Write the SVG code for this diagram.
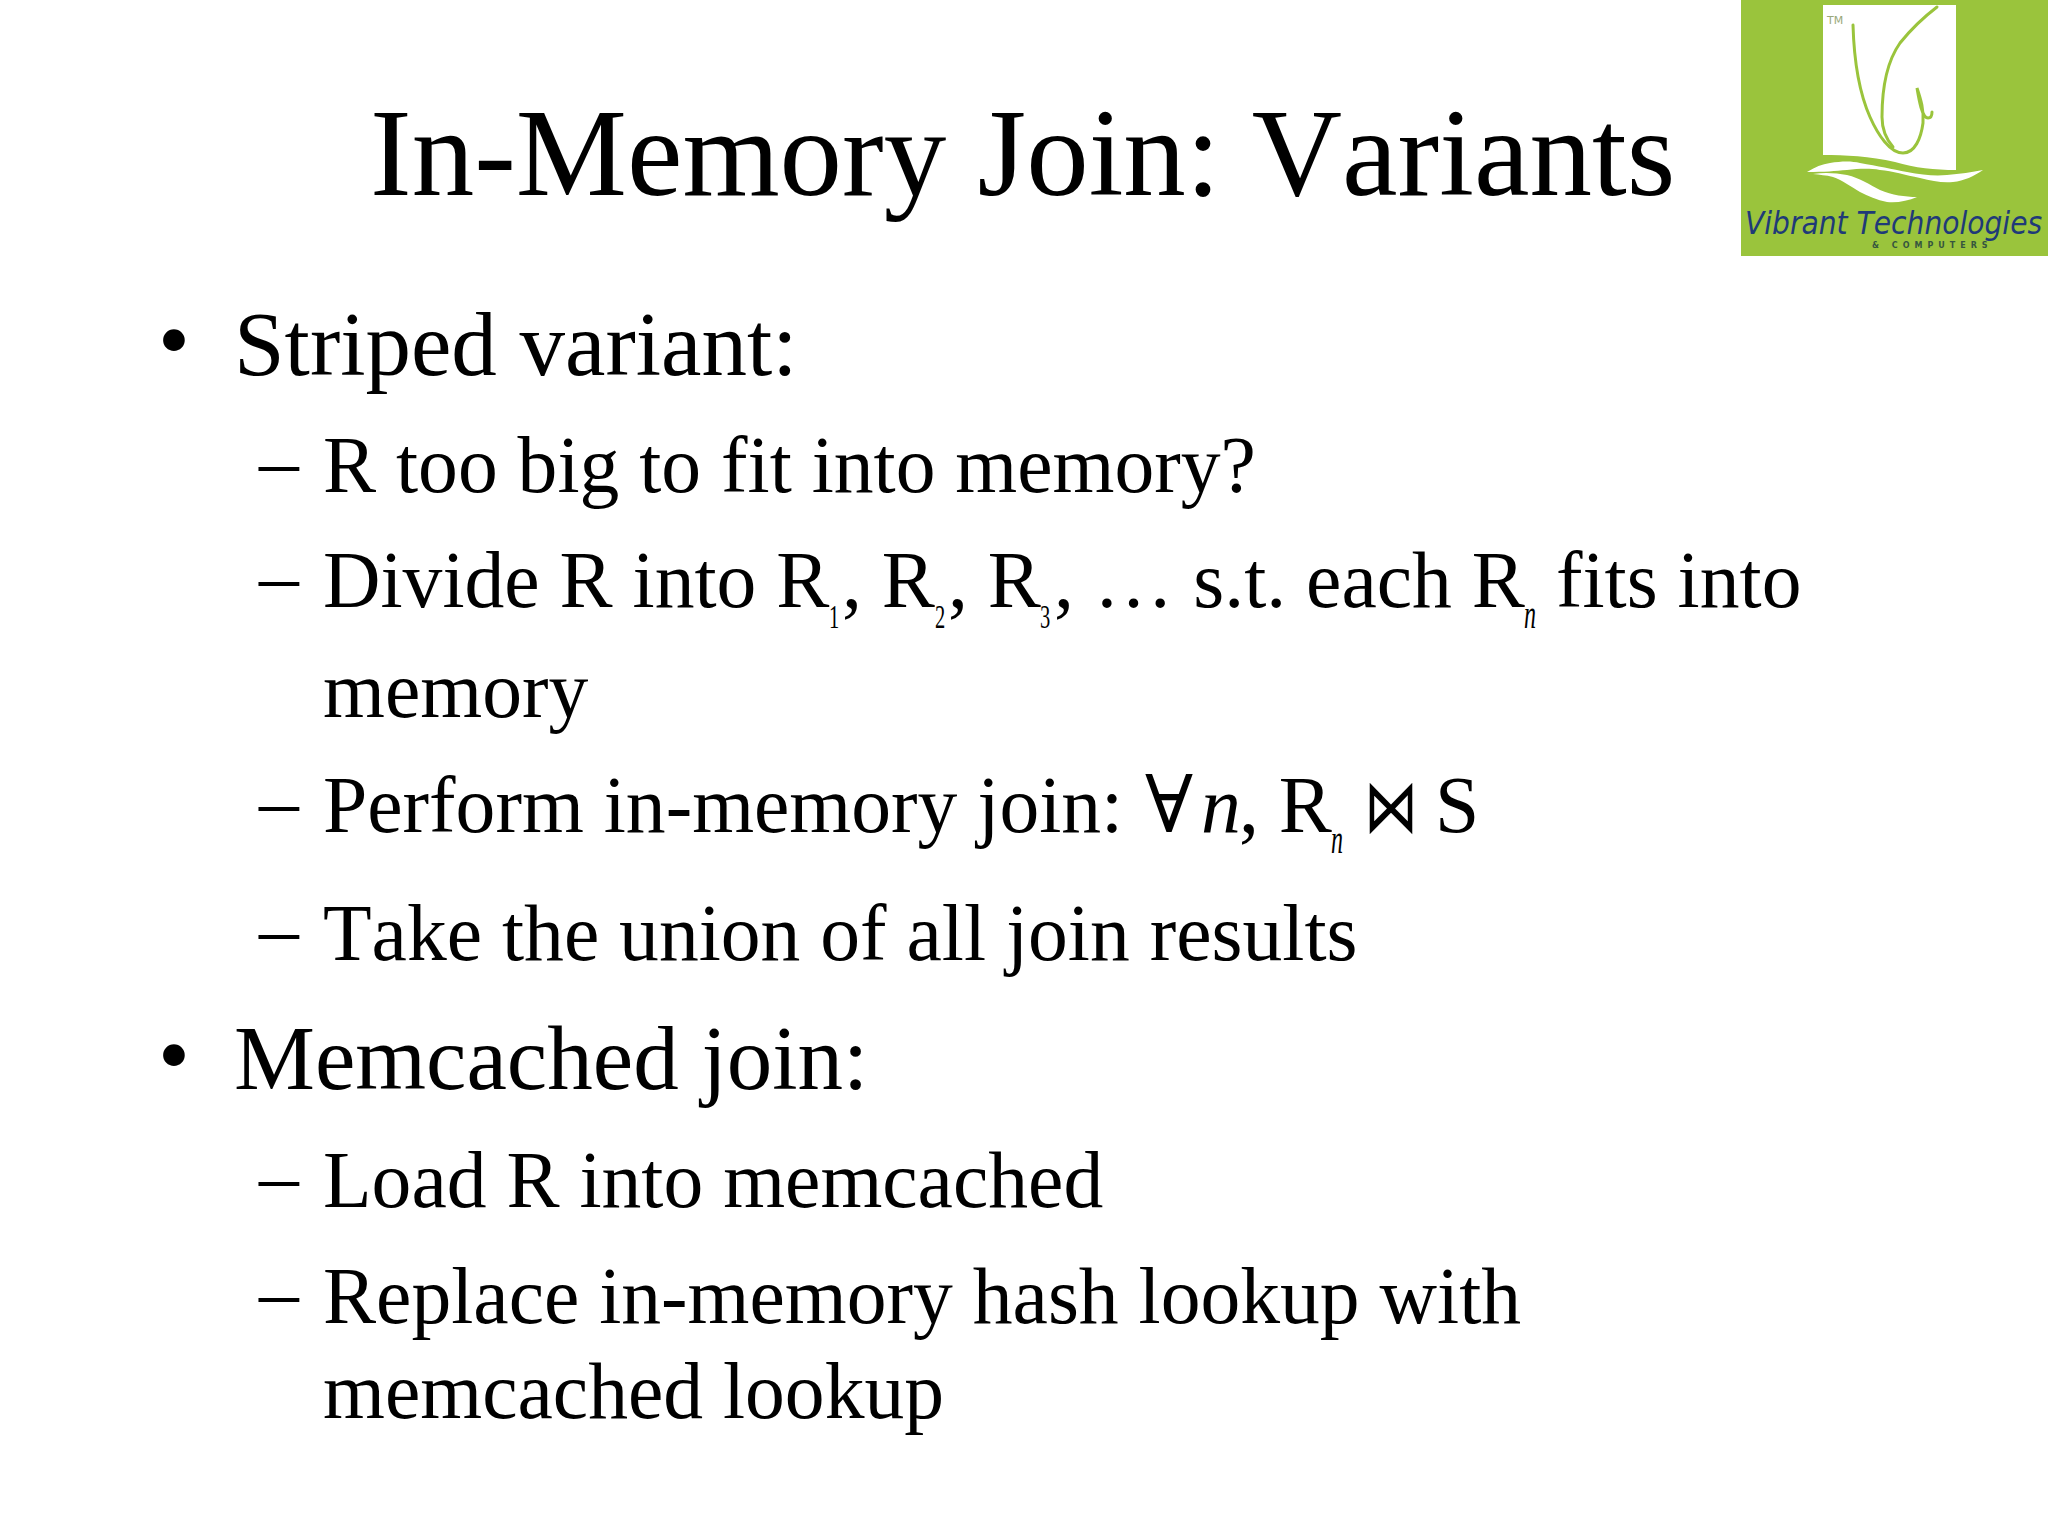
<svg xmlns="http://www.w3.org/2000/svg" width="2048" height="1536" viewBox="0 0 2048 1536">
<style>
text{font-family:"Liberation Serif","Times New Roman",serif;fill:#000;font-kerning:none}
.t{font-size:125px}
.l1{font-size:91px}
.l2{font-size:79.6px}
.sub{font-size:33px}
.subn{font-size:40px;font-style:italic}
.logo{font-family:"DejaVu Sans",sans-serif;fill:#1f3a78}
.ln{fill:none;stroke:#9ac43c;stroke-width:3;stroke-linecap:round}
</style>
<rect width="2048" height="1536" fill="#fff"/>
<g id="logo">
<rect x="1741" y="0" width="307" height="256" fill="#9ac43c"/>
<path d="M1823 5H1956V170C1935 170 1915 168 1895 162C1870 156 1845 155 1823 155Z" fill="#fff"/>
<path class="ln" d="M1853 25C1854 60 1858 90 1870 117C1878 135 1890 153 1903 153C1915 153 1921 138 1923 123C1924 110 1921 100 1917 88C1919 100 1922 118 1928 118C1931 118 1932 115 1932 112"/>
<path class="ln" d="M1937 7C1920 20 1908 33 1900 43C1888 60 1882 85 1882 117C1882 130 1887 140 1893 147"/>
<path d="M1807 172C1815 167 1822 164 1830 163C1842 161 1852 161 1860 163C1878 166 1892 169 1907 172C1922 175 1935 176 1947 175C1960 174 1972 172 1983 170C1974 176 1964 181 1953 182C1942 183 1932 181 1920 178C1905 175 1893 171 1880 170C1868 168 1858 169 1847 170C1835 171 1825 172 1807 172Z" fill="#fff"/>
<path d="M1813 174C1825 172 1836 173 1847 175C1860 178 1870 185 1880 190C1892 195 1905 197 1917 197C1908 201 1897 203 1887 202C1877 200 1868 196 1860 192C1850 186 1842 180 1833 177C1826 175 1820 175 1813 174Z" fill="#fff"/>
<text class="logo" x="1827" y="24" font-size="11" style="fill:#9aa87a">TM</text>
<text class="logo" transform="translate(1745,234) scale(.88,1)" font-size="32" font-style="italic">Vibrant Technologies</text>
<text class="logo" x="1872" y="248" font-size="8" font-weight="bold" letter-spacing="5" style="fill:#35553f">&amp; COMPUTERS</text>
</g>
<text class="t" x="370" y="195" id="title">In-Memory Join: Variants</text>
<g id="body">
<text class="l1" x="158" y="370">•</text>
<text class="l1" x="234" y="375">Striped variant:</text>
<text class="l2" x="259" y="488">–</text>
<text class="l2" x="323" y="492">R too big to fit into memory?</text>
<text class="l2" x="259" y="603">–</text>
<text class="l2" x="323" y="607">Divide R into R</text>
<text class="sub" transform="translate(829,628) scale(.62,1)">1</text>
<text class="l2" x="842" y="607">, R</text>
<text class="sub" transform="translate(935,628) scale(.62,1)">2</text>
<text class="l2" x="948" y="607">, R</text>
<text class="sub" transform="translate(1040,628) scale(.62,1)">3</text>
<text class="l2" x="1054" y="607">, … s.t. each R</text>
<text class="subn" transform="translate(1524,628) scale(.6,1)">n</text>
<text class="l2" x="1556" y="607">fits into</text>
<text class="l2" x="323" y="717">memory</text>
<text class="l2" x="259" y="828">–</text>
<text class="l2" x="323" y="832">Perform in-memory join:</text>
<text class="l2" x="1145" y="832" style="font-family:'DejaVu Serif',serif">∀</text>
<text class="l2" x="1201" y="832" font-style="italic">n</text>
<text class="l2" x="1239" y="832">, R</text>
<text class="subn" transform="translate(1331,853) scale(.6,1)">n</text>
<text transform="translate(1364,832) scale(.72,1)" font-size="75" font-weight="200" style="font-family:'DejaVu Sans',sans-serif">⋈</text>
<text class="l2" x="1435" y="832">S</text>
<text class="l2" x="259" y="956">–</text>
<text class="l2" x="323" y="960">Take the union of all join results</text>
<text class="l1" x="158" y="1085">•</text>
<text class="l1" x="234" y="1089">Memcached join:</text>
<text class="l2" x="259" y="1203">–</text>
<text class="l2" x="323" y="1207">Load R into memcached</text>
<text class="l2" x="259" y="1319">–</text>
<text class="l2" x="323" y="1323">Replace in-memory hash lookup with</text>
<text class="l2" x="323" y="1418">memcached lookup</text>
</g>
</svg>
